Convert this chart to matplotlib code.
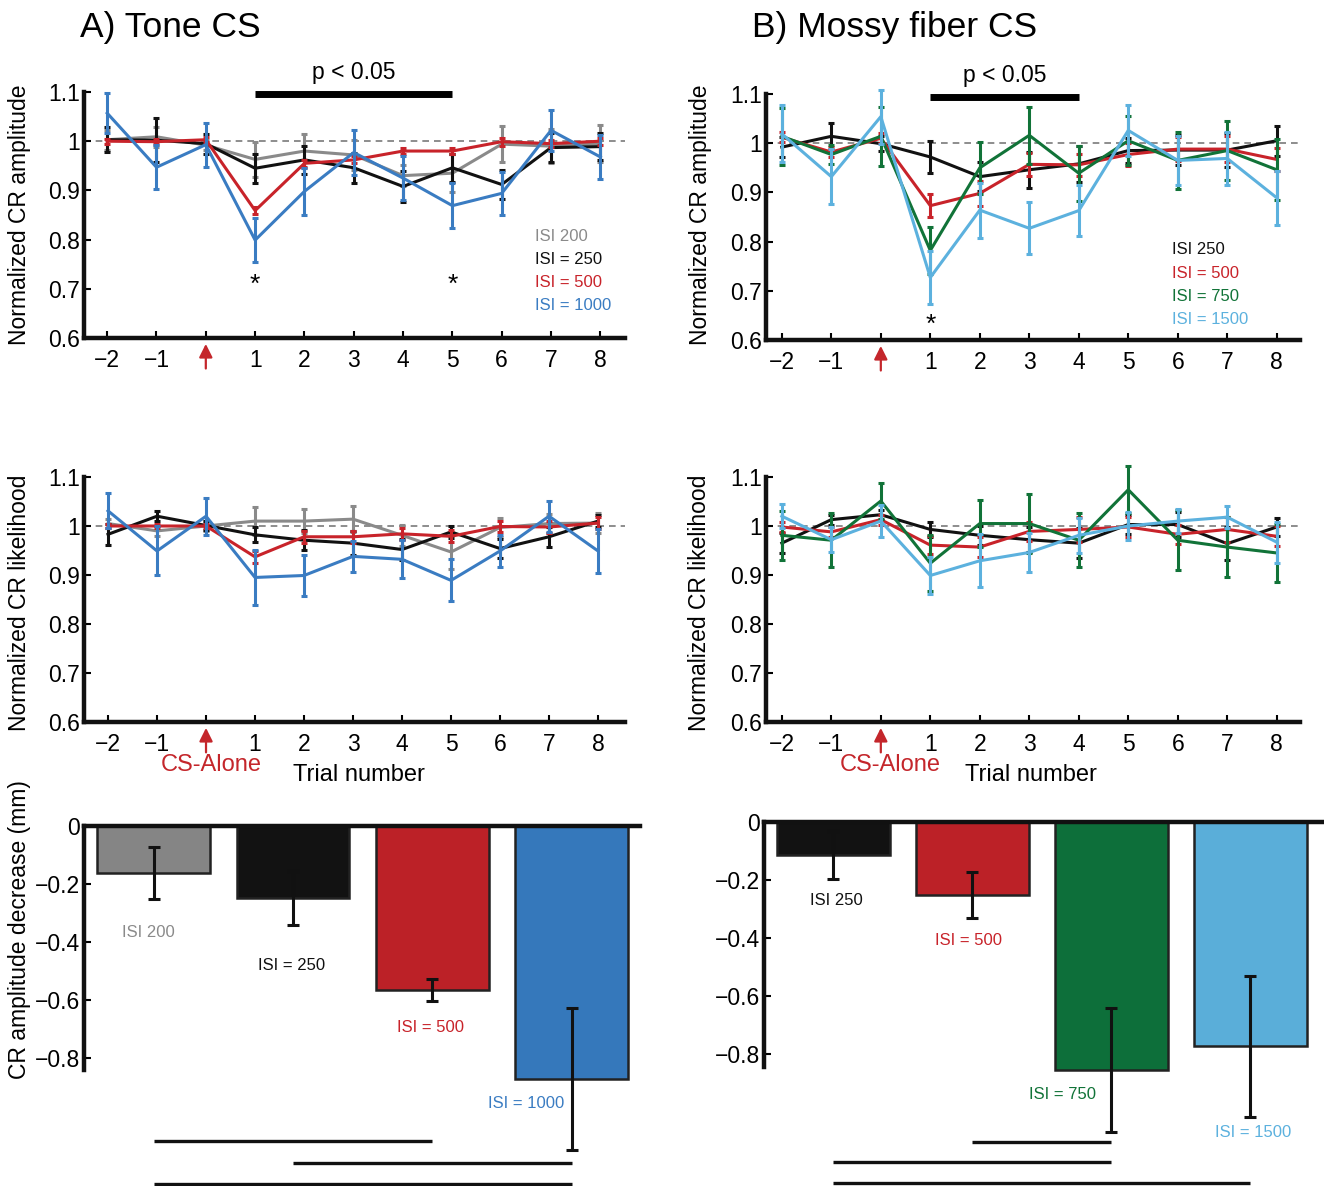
import matplotlib
matplotlib.use("Agg")
import matplotlib.pyplot as plt

plt.rcParams['font.family'] = ['Liberation Sans', 'DejaVu Sans']

W, H = 1324, 1186

# ---------------- data ----------------
x_trials = [-2, -1, 0, 1, 2, 3, 4, 5, 6, 7, 8]
xtick_labels = ['\u22122', '\u22121', '', '1', '2', '3', '4', '5', '6', '7', '8']
ytick_vals = [0.6, 0.7, 0.8, 0.9, 1.0, 1.1]
ytick_labels = ['0.6', '0.7', '0.8', '0.9', '1', '1.1']

# Tone CS - normalized CR amplitude
tone_amp_200 = [1.003, 1.009, 0.992, 0.963, 0.980, 0.972, 0.930, 0.935, 0.994, 0.990, 0.995]
tone_amp_200_err = [0.02, 0.02, 0.01, 0.035, 0.035, 0.03, 0.022, 0.038, 0.036, 0.035, 0.038]
tone_amp_250 = [1.003, 1.002, 0.995, 0.945, 0.962, 0.946, 0.908, 0.946, 0.912, 0.987, 0.989]
tone_amp_250_err = [0.025, 0.045, 0.02, 0.029, 0.028, 0.03, 0.031, 0.028, 0.03, 0.03, 0.028]
tone_amp_500 = [1.000, 0.999, 1.003, 0.859, 0.955, 0.962, 0.980, 0.980, 0.999, 0.995, 1.000]
tone_amp_500_err = [0.005, 0.005, 0.005, 0.007, 0.007, 0.007, 0.007, 0.007, 0.008, 0.007, 0.007]
tone_amp_1000 = [1.057, 0.947, 0.993, 0.799, 0.898, 0.977, 0.925, 0.869, 0.894, 1.022, 0.968]
tone_amp_1000_err = [0.041, 0.045, 0.045, 0.045, 0.047, 0.045, 0.045, 0.046, 0.044, 0.042, 0.044]

# Mossy fiber CS - normalized CR amplitude
mf_amp_250 = [0.992, 1.014, 0.999, 0.972, 0.932, 0.946, 0.958, 0.985, 0.986, 0.986, 1.005]
mf_amp_250_err = [0.02, 0.028, 0.015, 0.032, 0.03, 0.037, 0.037, 0.025, 0.03, 0.035, 0.03]
mf_amp_500 = [1.012, 0.982, 1.010, 0.873, 0.898, 0.957, 0.956, 0.977, 0.988, 0.988, 0.967]
mf_amp_500_err = [0.01, 0.01, 0.01, 0.023, 0.025, 0.023, 0.023, 0.024, 0.024, 0.026, 0.023]
mf_amp_750 = [1.014, 0.977, 1.014, 0.782, 0.950, 1.016, 0.939, 1.005, 0.965, 0.985, 0.946]
mf_amp_750_err = [0.058, 0.02, 0.06, 0.047, 0.053, 0.058, 0.056, 0.05, 0.058, 0.06, 0.062]
mf_amp_1500 = [1.019, 0.932, 1.054, 0.727, 0.864, 0.827, 0.863, 1.026, 0.965, 0.969, 0.889]
mf_amp_1500_err = [0.058, 0.056, 0.055, 0.053, 0.056, 0.053, 0.052, 0.052, 0.05, 0.054, 0.055]

# Tone CS - normalized CR likelihood
tone_lik_200 = [1.005, 0.990, 1.000, 1.010, 1.010, 1.014, 0.981, 0.947, 0.997, 1.005, 1.006]
tone_lik_200_err = [0.01, 0.01, 0.01, 0.029, 0.025, 0.026, 0.022, 0.035, 0.02, 0.02, 0.021]
tone_lik_250 = [0.983, 1.020, 1.001, 0.982, 0.971, 0.965, 0.952, 0.988, 0.954, 0.978, 1.010]
tone_lik_250_err = [0.022, 0.01, 0.01, 0.015, 0.021, 0.025, 0.022, 0.013, 0.02, 0.02, 0.012]
tone_lik_500 = [1.000, 1.000, 1.000, 0.937, 0.978, 0.978, 0.984, 0.979, 0.999, 0.998, 1.006]
tone_lik_500_err = [0.005, 0.005, 0.005, 0.012, 0.012, 0.012, 0.012, 0.012, 0.012, 0.012, 0.012]
tone_lik_1000 = [1.031, 0.949, 1.020, 0.895, 0.899, 0.938, 0.932, 0.889, 0.949, 1.020, 0.949]
tone_lik_1000_err = [0.036, 0.05, 0.038, 0.057, 0.041, 0.031, 0.039, 0.043, 0.032, 0.032, 0.045]

# Mossy fiber CS - normalized CR likelihood
mf_lik_250 = [0.965, 1.013, 1.023, 0.993, 0.981, 0.972, 0.965, 1.003, 1.003, 0.964, 0.998]
mf_lik_250_err = [0.02, 0.01, 0.01, 0.015, 0.02, 0.025, 0.03, 0.02, 0.025, 0.034, 0.018]
mf_lik_500 = [0.998, 0.988, 1.013, 0.961, 0.957, 0.989, 0.993, 0.998, 0.983, 0.993, 0.979]
mf_lik_500_err = [0.01, 0.01, 0.01, 0.018, 0.02, 0.02, 0.025, 0.02, 0.02, 0.025, 0.02]
mf_lik_750 = [0.981, 0.971, 1.051, 0.924, 1.005, 1.005, 0.971, 1.074, 0.971, 0.957, 0.945]
mf_lik_750_err = [0.05, 0.055, 0.036, 0.057, 0.048, 0.061, 0.055, 0.048, 0.061, 0.061, 0.059]
mf_lik_1500 = [1.020, 0.972, 1.010, 0.899, 0.929, 0.946, 0.981, 1.000, 1.010, 1.018, 0.967]
mf_lik_1500_err = [0.024, 0.025, 0.032, 0.037, 0.054, 0.039, 0.036, 0.029, 0.024, 0.023, 0.042]

# Bar charts: CR amplitude decrease (mm)
tone_bar_labels = ['ISI 200', 'ISI = 250', 'ISI = 500', 'ISI = 1000']
tone_bar_vals = [-0.162, -0.249, -0.566, -0.871]
tone_bar_err = [0.09, 0.093, 0.038, 0.245]
mf_bar_labels = ['ISI 250', 'ISI = 500', 'ISI = 750', 'ISI = 1500']
mf_bar_vals = [-0.115, -0.251, -0.855, -0.775]
mf_bar_err = [0.083, 0.08, 0.214, 0.244]
bar_yticks = [0, -0.2, -0.4, -0.6, -0.8]
bar_ytick_labels = ['0', '\u22120.2', '\u22120.4', '\u22120.6', '\u22120.8']

# significance brackets (from bar, to bar)
tone_sig_pairs = [(1, 3), (2, 4), (1, 4)]
mf_sig_pairs = [(2, 3), (1, 3), (1, 4)]

# ---------------- colours ----------------
C_GRAY = '#8a8a8a'
C_BLACK = '#111111'
C_RED = '#c8232a'
C_BLUE = '#3a7cc2'
C_GREEN = '#117338'
C_LBLUE = '#5cb1de'
BAR_GRAY = '#858585'
BAR_BLACK = '#121212'
BAR_RED = '#bc2127'
BAR_BLUE = '#3578bb'
BAR_GREEN = '#0d6f3a'
BAR_LBLUE = '#5aaed9'
ARROW_RED = '#c4262b'


def fr(x0, y0, x1, y1):
    """pixel box -> figure fraction rect"""
    return [x0 / W, 1 - y1 / H, (x1 - x0) / W, (y1 - y0) / H]


fig = plt.figure(figsize=(W / 100, H / 100), dpi=100)

TICK_FS = 16.5


def style_line_axes(ax, xlim):
    ax.set_xlim(*xlim)
    ax.set_ylim(0.6, 1.1)
    ax.set_xticks(x_trials)
    ax.set_xticklabels(xtick_labels)
    ax.set_yticks(ytick_vals)
    ax.set_yticklabels(ytick_labels)
    for s in ['top', 'right']:
        ax.spines[s].set_visible(False)
    for s in ['left', 'bottom']:
        ax.spines[s].set_linewidth(3.2)
        ax.spines[s].set_color('#111111')
    ax.tick_params(direction='in', length=5, width=1.5, labelsize=TICK_FS)
    ax.tick_params(axis='y', pad=3)
    ax.tick_params(axis='x', pad=8)
    ax.axhline(1.0, color='#7a7a7a', ls=(0, (4, 3)), lw=1.2, zorder=1)
    ax.set_facecolor('none')


def draw_series(ax, series):
    for i, (y, e, c) in enumerate(series):
        ax.errorbar(x_trials, y, yerr=e, color=c, lw=2.2, elinewidth=2.2,
                    capsize=2.5, capthick=2.2, zorder=3 + i, clip_on=False)


def draw_arrow(ax):
    ax.annotate('', xy=(0, 0.588), xytext=(0, 0.538), xycoords='data',
                arrowprops=dict(arrowstyle='-|>', color=ARROW_RED, lw=1.6,
                                mutation_scale=20, shrinkA=0, shrinkB=0),
                annotation_clip=False)


# ---- Top-left: Tone CS amplitude
ax1 = fig.add_axes(fr(84, 92, 625, 338))
style_line_axes(ax1, (-2.47, 8.5))
draw_series(ax1, [(tone_amp_200, tone_amp_200_err, C_GRAY),
                  (tone_amp_250, tone_amp_250_err, C_BLACK),
                  (tone_amp_500, tone_amp_500_err, C_RED),
                  (tone_amp_1000, tone_amp_1000_err, C_BLUE)])
draw_arrow(ax1)
ax1.plot([1, 5], [1.096, 1.096], color='k', lw=5, solid_capstyle='butt', clip_on=False)
ax1.text(3, 1.116, 'p < 0.05', ha='center', va='bottom', fontsize=16.5)
for xs in [1, 5]:
    ax1.text(xs, 0.708, '*', ha='center', va='center', fontsize=19)
for i, (lab, c) in enumerate(zip(['ISI 200', 'ISI = 250', 'ISI = 500', 'ISI = 1000'],
                                  [C_GRAY, C_BLACK, C_RED, C_BLUE])):
    ax1.text(6.68, 0.807 - i * 0.047, lab, color=c, fontsize=12, ha='left', va='center')

# ---- Top-right: Mossy fiber amplitude
ax2 = fig.add_axes(fr(766, 94, 1300, 340))
style_line_axes(ax2, (-2.32, 8.47))
draw_series(ax2, [(mf_amp_250, mf_amp_250_err, C_BLACK),
                  (mf_amp_500, mf_amp_500_err, C_RED),
                  (mf_amp_750, mf_amp_750_err, C_GREEN),
                  (mf_amp_1500, mf_amp_1500_err, C_LBLUE)])
draw_arrow(ax2)
ax2.plot([1, 4], [1.094, 1.094], color='k', lw=5, solid_capstyle='butt', clip_on=False)
ax2.text(2.5, 1.114, 'p < 0.05', ha='center', va='bottom', fontsize=16.5)
ax2.text(1, 0.631, '*', ha='center', va='center', fontsize=19)
for i, (lab, c) in enumerate(zip(['ISI 250', 'ISI = 500', 'ISI = 750', 'ISI = 1500'],
                                  [C_BLACK, C_RED, C_GREEN, C_LBLUE])):
    ax2.text(5.88, 0.783 - i * 0.047, lab, color=c, fontsize=12, ha='left', va='center')

# ---- Middle-left: Tone CS likelihood
ax3 = fig.add_axes(fr(84, 477, 625, 722))
style_line_axes(ax3, (-2.49, 8.55))
draw_series(ax3, [(tone_lik_200, tone_lik_200_err, C_GRAY),
                  (tone_lik_250, tone_lik_250_err, C_BLACK),
                  (tone_lik_500, tone_lik_500_err, C_RED),
                  (tone_lik_1000, tone_lik_1000_err, C_BLUE)])
draw_arrow(ax3)

# ---- Middle-right: Mossy fiber likelihood
ax4 = fig.add_axes(fr(766, 477, 1300, 722))
style_line_axes(ax4, (-2.32, 8.47))
draw_series(ax4, [(mf_lik_250, mf_lik_250_err, C_BLACK),
                  (mf_lik_500, mf_lik_500_err, C_RED),
                  (mf_lik_750, mf_lik_750_err, C_GREEN),
                  (mf_lik_1500, mf_lik_1500_err, C_LBLUE)])
draw_arrow(ax4)


# ---- Bar panels
def bar_panel(ax, vals, errs, colors, labels, label_pos, label_colors, sig_pairs, sig_y, xlim, ylo):
    xs = [1, 2, 3, 4]
    ax.bar(xs, vals, width=0.81, color=colors, edgecolor='#222222', linewidth=1.8, zorder=2)
    ax.errorbar(xs, vals, yerr=errs, fmt='none', ecolor='#111111', elinewidth=2.2,
                capsize=4, capthick=2.2, zorder=3, clip_on=False)
    for lab, (lx, ly), lc in zip(labels, label_pos, label_colors):
        ax.text(lx, ly, lab, color=lc, fontsize=12, ha='center', va='center')
    for (a, b), yy in zip(sig_pairs, sig_y):
        ax.plot([a, b], [yy, yy], color='#111111', lw=2.4, solid_capstyle='butt', clip_on=False)
    ax.set_xlim(*xlim)
    ax.set_ylim(ylo, 0)
    ax.set_xticks([])
    ax.set_yticks(bar_yticks)
    ax.set_yticklabels(bar_ytick_labels)
    for s in ['bottom', 'right']:
        ax.spines[s].set_visible(False)
    for s in ['left', 'top']:
        ax.spines[s].set_linewidth(3.2)
        ax.spines[s].set_color('#111111')
        ax.spines[s].set_zorder(5)
    ax.tick_params(direction='in', length=5, width=1.5, labelsize=TICK_FS, pad=3)
    ax.set_facecolor('none')
    for b in ax.patches:
        b.set_clip_on(False)


ax5 = fig.add_axes(fr(84, 826, 640, 1070))
bar_panel(ax5, tone_bar_vals, tone_bar_err,
          [BAR_GRAY, BAR_BLACK, BAR_RED, BAR_BLUE], tone_bar_labels,
          [(0.96, -0.366), (1.99, -0.479), (2.99, -0.693), (3.67, -0.955)],
          [C_GRAY, C_BLACK, C_RED, C_BLUE], tone_sig_pairs,
          [-1.083, -1.160, -1.232], (0.5, 4.49), -0.84)

ax6 = fig.add_axes(fr(764, 822, 1324, 1067))
bar_panel(ax6, mf_bar_vals, mf_bar_err,
          [BAR_BLACK, BAR_RED, BAR_GREEN, BAR_LBLUE], mf_bar_labels,
          [(1.02, -0.272), (1.97, -0.41), (2.65, -0.941), (4.02, -1.072)],
          [C_BLACK, C_RED, C_GREEN, C_LBLUE], mf_sig_pairs,
          [-1.104, -1.173, -1.247], (0.5, 4.53), -0.846)

# ---- Figure texts
fig.text(80 / W, 1 - 27 / H, 'A) Tone CS', fontsize=25.5, ha='left', va='center')
fig.text(752 / W, 1 - 27 / H, 'B) Mossy fiber CS', fontsize=25.5, ha='left', va='center')
YL_FS = 16.5
fig.text(20 / W, 1 - 215 / H, 'Normalized CR amplitude', rotation=90, fontsize=YL_FS, ha='center', va='center')
fig.text(20 / W, 1 - 603 / H, 'Normalized CR likelihood', rotation=90, fontsize=YL_FS, ha='center', va='center')
fig.text(700 / W, 1 - 215 / H, 'Normalized CR amplitude', rotation=90, fontsize=YL_FS, ha='center', va='center')
fig.text(700 / W, 1 - 603 / H, 'Normalized CR likelihood', rotation=90, fontsize=YL_FS, ha='center', va='center')
fig.text(20 / W, 1 - 930 / H, 'CR amplitude decrease (mm)', rotation=90, fontsize=YL_FS, ha='center', va='center')
fig.text(211 / W, 1 - 765 / H, 'CS-Alone', color=ARROW_RED, fontsize=17, ha='center', va='center')
fig.text(890 / W, 1 - 765 / H, 'CS-Alone', color=ARROW_RED, fontsize=17, ha='center', va='center')
fig.text(359 / W, 1 - 775 / H, 'Trial number', fontsize=17, ha='center', va='center')
fig.text(1031 / W, 1 - 775 / H, 'Trial number', fontsize=17, ha='center', va='center')

fig.savefig('out.png', dpi=100)
